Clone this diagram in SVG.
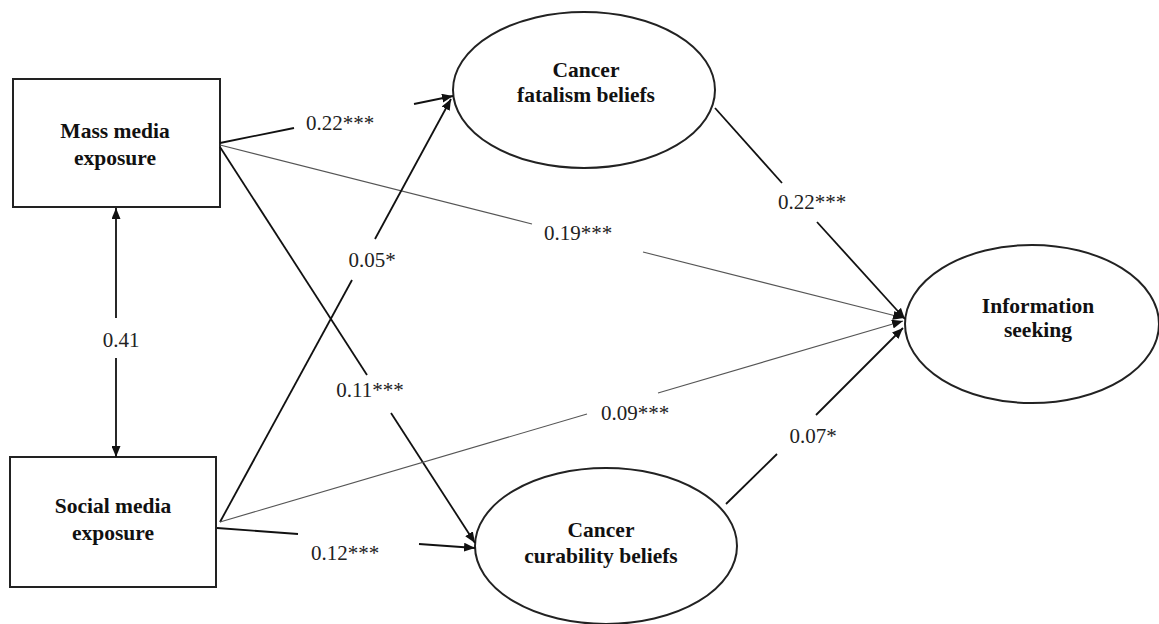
<svg xmlns="http://www.w3.org/2000/svg" width="1159" height="624" viewBox="0 0 1159 624">
<defs>
<marker id="ah" viewBox="0 0 11 9" refX="11" refY="4.5" markerWidth="11" markerHeight="9" markerUnits="userSpaceOnUse" orient="auto">
<path d="M0,0 L11,4.5 L0,9 z" fill="#111"/>
</marker>
<style>
.node{fill:#fff;stroke:#222;stroke-width:2}
.nt{font-family:'Liberation Serif',Times,serif;font-weight:bold;font-size:21.5px;fill:#111;text-anchor:middle}
.lbl{font-family:'Liberation Serif',Times,serif;font-size:21px;fill:#222;text-anchor:middle}
.thick{stroke:#111;stroke-width:1.8;fill:none}
.thin{stroke:#555;stroke-width:1.1;fill:none}
</style>
</defs>
<rect width="1159" height="624" fill="#fff"/>
<g id="mass">
<rect class="node" x="13" y="79" width="207" height="128"/>
<text class="nt" x="115" y="138">Mass media</text>
<text class="nt" x="115" y="165">exposure</text>
</g>
<g id="social">
<rect class="node" x="10" y="457" width="206" height="130"/>
<text class="nt" x="113" y="513">Social media</text>
<text class="nt" x="113" y="540">exposure</text>
</g>
<g id="fatalism">
<ellipse class="node" cx="584" cy="90" rx="131" ry="78"/>
<text class="nt" x="586" y="77">Cancer</text>
<text class="nt" x="586" y="102">fatalism beliefs</text>
</g>
<g id="curability">
<ellipse class="node" cx="606" cy="546" rx="131" ry="78"/>
<text class="nt" x="601" y="537">Cancer</text>
<text class="nt" x="601" y="563">curability beliefs</text>
</g>
<g id="info">
<ellipse class="node" cx="1032" cy="324" rx="127" ry="79"/>
<text class="nt" x="1038" y="313">Information</text>
<text class="nt" x="1038" y="337">seeking</text>
</g>
<g id="connectors">
<line class="thick" x1="116" y1="318" x2="116" y2="208" marker-end="url(#ah)"/>
<line class="thick" x1="116" y1="358" x2="116" y2="457" marker-end="url(#ah)"/>
<line class="thick" x1="220" y1="143" x2="294" y2="128"/>
<line class="thick" x1="414" y1="104" x2="453" y2="96" marker-end="url(#ah)"/>
<line class="thin" x1="220" y1="145" x2="532" y2="224"/>
<line class="thin" x1="643" y1="252" x2="904" y2="318" marker-end="url(#ah)"/>
<line class="thick" x1="220" y1="147" x2="367" y2="375"/>
<line class="thick" x1="391" y1="413" x2="475" y2="543" marker-end="url(#ah)"/>
<line class="thick" x1="220" y1="522" x2="352" y2="280"/>
<line class="thick" x1="375" y1="239" x2="451" y2="99" marker-end="url(#ah)"/>
<line class="thin" x1="220" y1="522" x2="587" y2="414"/>
<line class="thin" x1="658" y1="393" x2="903" y2="321" marker-end="url(#ah)"/>
<line class="thick" x1="217" y1="528" x2="298" y2="534"/>
<line class="thick" x1="419" y1="544" x2="475" y2="548" marker-end="url(#ah)"/>
<line class="thick" x1="715" y1="108" x2="782" y2="183"/>
<line class="thick" x1="817" y1="222" x2="905" y2="319" marker-end="url(#ah)"/>
<line class="thick" x1="726" y1="504" x2="777" y2="454"/>
<line class="thick" x1="816" y1="415" x2="903" y2="328" marker-end="url(#ah)"/>
<text class="lbl" x="121" y="347">0.41</text>
<text class="lbl" x="340" y="130">0.22***</text>
<text class="lbl" x="578" y="240">0.19***</text>
<text class="lbl" x="370" y="397">0.11***</text>
<text class="lbl" x="372" y="267">0.05*</text>
<text class="lbl" x="635" y="420">0.09***</text>
<text class="lbl" x="345" y="560">0.12***</text>
<text class="lbl" x="812" y="209">0.22***</text>
<text class="lbl" x="813" y="443">0.07*</text>
</g>
</svg>
